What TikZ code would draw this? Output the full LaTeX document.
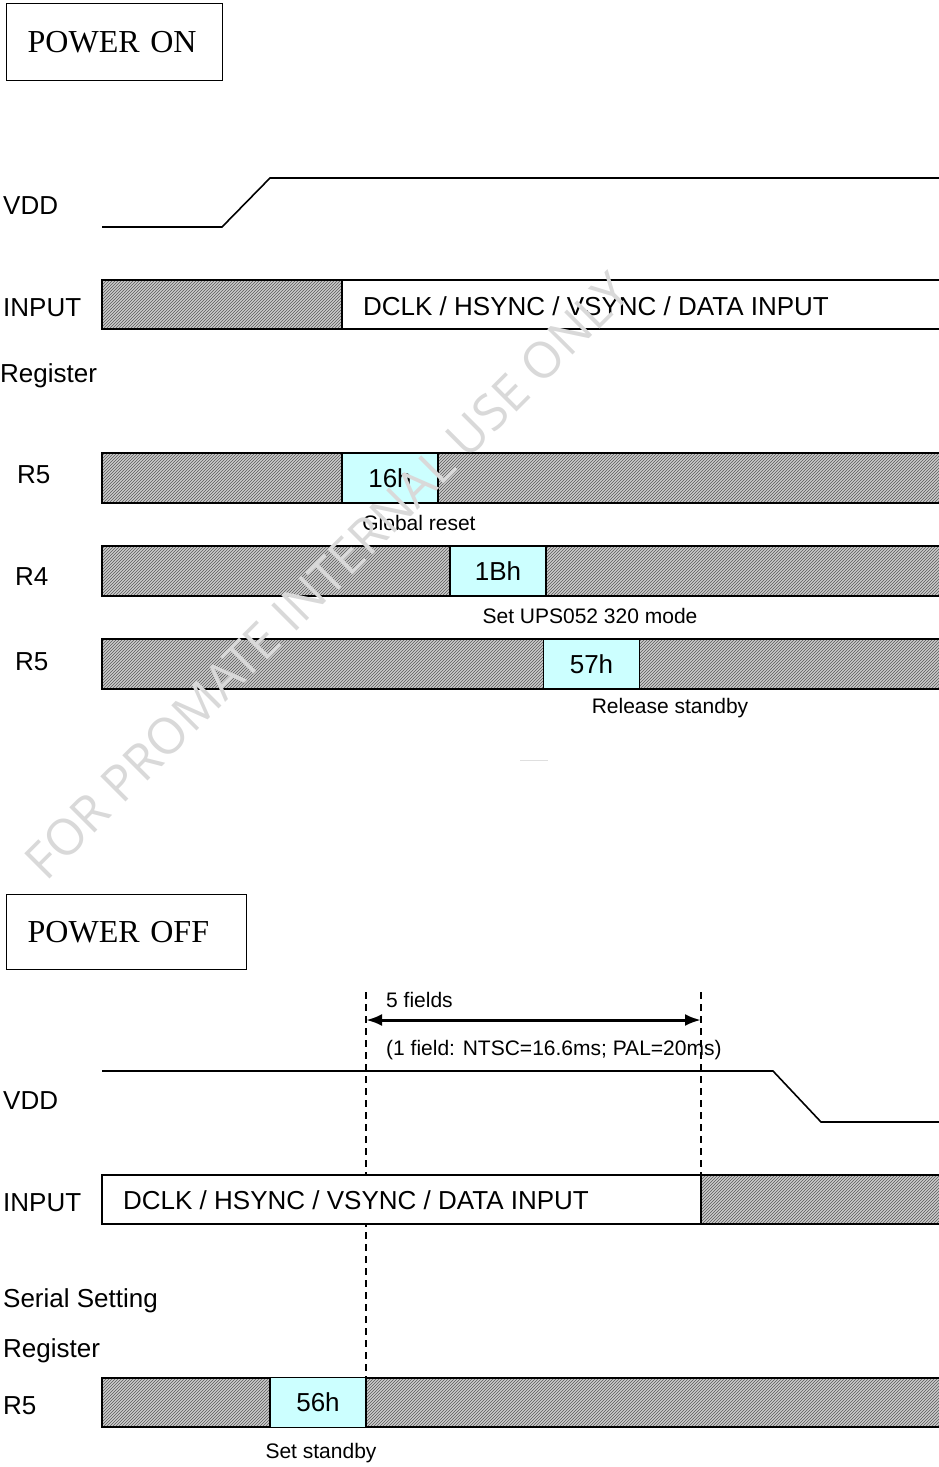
\documentclass[tikz,border=0pt]{standalone}
\usepackage{fontspec}
\setmainfont{Liberation Serif}
\newfontfamily\arialfont{Liberation Sans}
\newfontfamily\wmfont{Open Sans}
\usetikzlibrary{patterns,arrows.meta}
\definecolor{cellcyan}{RGB}{204,255,255}

\begin{document}
\begin{tikzpicture}[x=1pt, y=-1pt,
    sig/.style={line width=1.6pt},
    hatch/.style={draw, line width=1.5pt, preaction={fill=gray!40}, pattern=north east lines, pattern color=gray!70!black},
    blank/.style={draw, line width=1.5pt, fill=white},
    cell/.style={draw, line width=1.5pt, fill=cellcyan, minimum width=96, minimum height=50, inner sep=0, font=\arialfont\fontsize{26}{30}\selectfont},
    lbl/.style={anchor=west, inner sep=0, font=\arialfont\fontsize{26}{30}\selectfont},
    note/.style={inner sep=0, font=\arialfont\fontsize{21}{25}\selectfont},
    titlebox/.style={draw, line width=1.4pt, inner xsep=21, align=left, font=\fontsize{32}{36}\selectfont},
    marker/.style={line width=2.6pt, dash pattern=on 7pt off 5pt}]
        \useasboundingbox (0,0) rectangle (939,1467);

        % ---------------- POWER ON ----------------
        \node[titlebox, text width=174, minimum height=77, anchor=north west] (ontitle) at (6,3) {POWER ON};

        % VDD
        \node[lbl] (onvdd) at (3,206) {VDD};
        \draw[sig] (102,227) -- (222,227) -- (270,178) -- (945,178);

        % INPUT
        \node[lbl] (oninput) at (3,308) {INPUT};
        \draw[hatch] (102,280) rectangle (342,329);
        \draw[blank] (342,280) rectangle (945,329);
        \node[lbl] (ondata) at (363,306) {DCLK / HSYNC / VSYNC / DATA INPUT};

        \node[lbl] (onreg) at (0,376) {Register};

        % R5 : 16h
        \node[lbl] (onrfive) at (17,475) {R5};
        \draw[hatch] (102,453) rectangle (945,503);
        \node[cell] (cglobal) at (390,478) {16h};
        \node[note] (nglobal) at (419,523) {Global reset};

        % R4 : 1Bh
        \node[lbl] (onrfour) at (15,577) {R4};
        \draw[hatch] (102,546) rectangle (945,596);
        \node[cell] (cmode) at (498,571) {1Bh};
        \node[note] (nmode) at (590,616) {Set UPS052 320 mode};

        % R5 : 57h
        \node[lbl] (onrfiveb) at (15,662) {R5};
        \draw[hatch] (102,639) rectangle (945,689);
        \node[cell] (crelease) at (591.5,664) {57h};
        \node[note] (nrelease) at (670,708) {Release standby};

        \draw[gray!25, line width=1pt] (520,760) -- (548,760);

        % ---------------- POWER OFF ----------------
        \node[titlebox, text width=198, minimum height=75, anchor=north west] (offtitle) at (6,894) {POWER OFF};

        % 5 fields markers
        \coordinate (mla) at (366,992);
        \coordinate (mlb) at (366,1378);
        \coordinate (mra) at (701,992);
        \coordinate (mrb) at (701,1175);
        \draw[marker] (mla) -- (mlb);
        \draw[marker] (mra) -- (mrb);
        \draw[line width=3pt, {Latex[length=16pt,width=12pt]}-{Latex[length=16pt,width=12pt]}] (mla |- 0,1020) -- (mra |- 0,1020);
        \node[note, anchor=west] (nfields) at (386,1000) {5 fields};
        \node[note, anchor=west] (nfield) at (386,1050) {(1 field: NTSC=16.6ms; PAL=20ms)};

        % VDD
        \node[lbl] (offvdd) at (3,1101) {VDD};
        \draw[sig] (102,1071) -- (773,1071) -- (821,1122) -- (945,1122);

        % INPUT
        \node[lbl] (offinput) at (3,1203) {INPUT};
        \draw[blank] (102,1175) rectangle (701,1224);
        \draw[hatch] (701,1175) rectangle (945,1224);
        \node[lbl] (offdata) at (123,1200) {DCLK / HSYNC / VSYNC / DATA INPUT};

        \node[lbl] (offserial) at (3,1301) {Serial Setting};
        \node[lbl] (offreg) at (3,1351) {Register};

        % R5 : 56h
        \node[lbl] (offrfive) at (3,1406) {R5};
        \draw[hatch] (102,1378) rectangle (945,1427);
        \node[cell] (cstandby) at (318,1402.5) {56h};
        \node[note] (nstandby) at (321,1453) {Set standby};

        % watermark
        \node[text=gray!30, rotate=45, inner sep=0, font=\wmfont\fontsize{50}{54}\selectfont] (wm) at (327,576) {FOR PROMATE INTERNAL USE ONLY};
    \end{tikzpicture}
\end{document}
